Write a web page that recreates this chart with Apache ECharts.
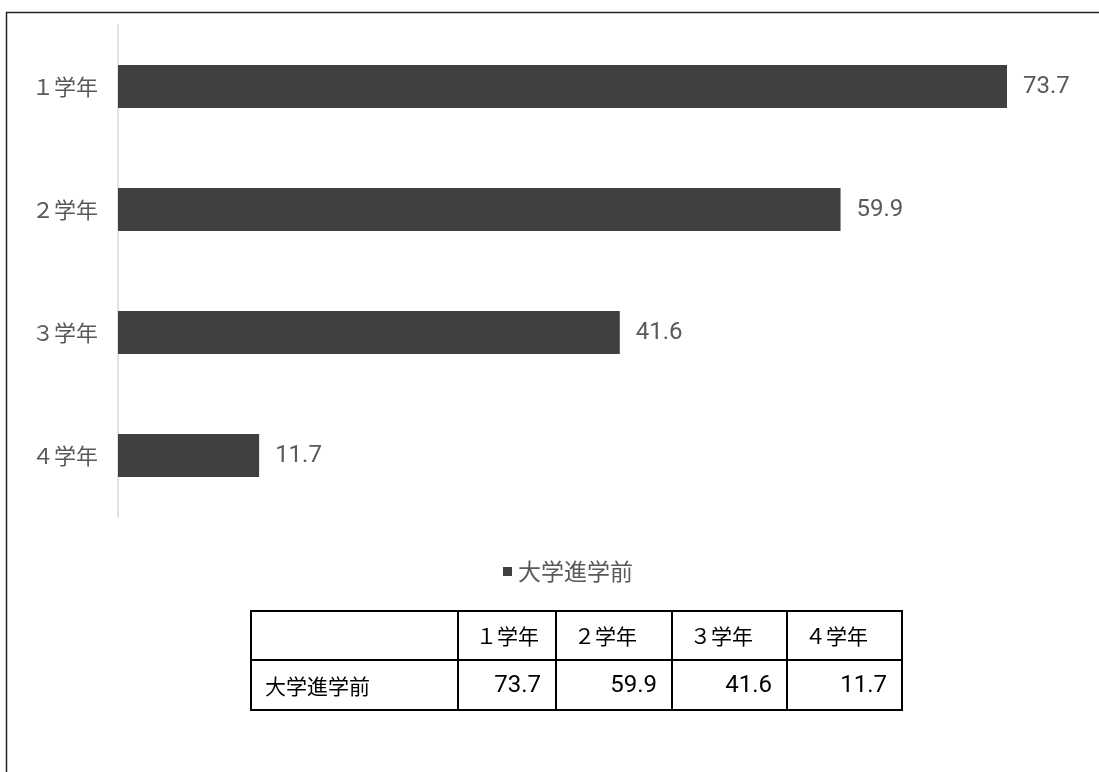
<!DOCTYPE html>
<html>
<head>
<meta charset="utf-8">
<script src="https://cdn.jsdelivr.net/npm/echarts@6/dist/echarts.min.js"></script>
<style>
  html, body { margin: 0; padding: 0; background: #fff; }
  #chart { width: 1099px; height: 772px; }
</style>
</head>
<body>
<div id="chart"></div>
<script>
// Share by school year, before entering university
const categories = ['１学年', '２学年', '３学年', '４学年'];
const seriesName = '大学進学前';
const values = [73.7, 59.9, 41.6, 11.7];

const CJK = "Noto Sans CJK JP";
const NUM = "Roboto";

const chart = echarts.init(document.getElementById('chart'), null, { renderer: 'canvas' });

// Data table under the legend
const colEdges = [251, 458, 556, 672, 787, 902];
const rowEdges = [611, 660, 710];
const tableGraphics = [];
// horizontal rules
rowEdges.forEach(y => {
  tableGraphics.push({
    type: 'line', shape: { x1: colEdges[0] - 1, y1: y, x2: colEdges[colEdges.length - 1] + 1, y2: y },
    style: { stroke: '#000', lineWidth: 2 }, silent: true
  });
});
// vertical rules
colEdges.forEach(x => {
  tableGraphics.push({
    type: 'line', shape: { x1: x, y1: rowEdges[0], x2: x, y2: rowEdges[rowEdges.length - 1] },
    style: { stroke: '#000', lineWidth: 2 }, silent: true
  });
});
// header cells
categories.forEach((c, i) => {
  tableGraphics.push({
    type: 'text', x: colEdges[i + 1] + 18, y: (rowEdges[0] + rowEdges[1]) / 2 + 1,
    style: {
      text: c, fill: '#000', fontSize: 21, fontFamily: CJK,
      align: 'left', verticalAlign: 'middle'
    },
    silent: true
  });
});
// row label
tableGraphics.push({
  type: 'text', x: colEdges[0] + 14, y: (rowEdges[1] + rowEdges[2]) / 2 + 1,
  style: {
    text: seriesName, fill: '#000', fontSize: 21, fontFamily: CJK,
    align: 'left', verticalAlign: 'middle'
  },
  silent: true
});
// value cells
values.forEach((v, i) => {
  tableGraphics.push({
    type: 'text', x: colEdges[i + 2] - 15, y: (rowEdges[1] + rowEdges[2]) / 2 + 1,
    style: {
      text: v.toFixed(1), fill: '#000', fontSize: 24, fontFamily: NUM,
      align: 'right', verticalAlign: 'middle'
    },
    silent: true
  });
});

const option = {
  backgroundColor: '#fff',
  animation: false,
  grid: { left: 118, top: 25, height: 492, right: 16, containLabel: false },
  legend: {
    data: [seriesName],
    left: 498,
    top: 555,
    icon: 'rect',
    itemWidth: 9,
    itemHeight: 9,
    itemStyle: { color: '#404040' },
    textStyle: { color: '#595959', fontSize: 23, fontFamily: CJK, padding: [0, 0, 0, 1] }
  },
  xAxis: {
    type: 'value',
    min: 0,
    max: 80,
    show: false
  },
  yAxis: {
    type: 'category',
    data: categories,
    inverse: true,
    axisLine: { show: true, lineStyle: { color: '#d9d9d9', width: 1.5 } },
    axisTick: { show: false },
    axisLabel: { color: '#595959', fontSize: 22, fontFamily: CJK, margin: 20 },
    splitLine: { show: false }
  },
  series: [{
    name: seriesName,
    type: 'bar',
    data: values,
    barWidth: 43,
    itemStyle: { color: '#404040' },
    label: {
      show: true,
      position: 'right',
      distance: 16,
      color: '#595959',
      fontSize: 24,
      fontFamily: NUM,
      formatter: p => p.value.toFixed(1)
    }
  }],
  graphic: [
    // outer frame (top and left edges visible)
    {
      type: 'rect', shape: { x: 6.5, y: 12.5, width: 1300, height: 1000 },
      style: { fill: 'none', stroke: '#222', lineWidth: 1.5 }, silent: true
    }
  ].concat(tableGraphics)
};

chart.setOption(option);
</script>
</body>
</html>
